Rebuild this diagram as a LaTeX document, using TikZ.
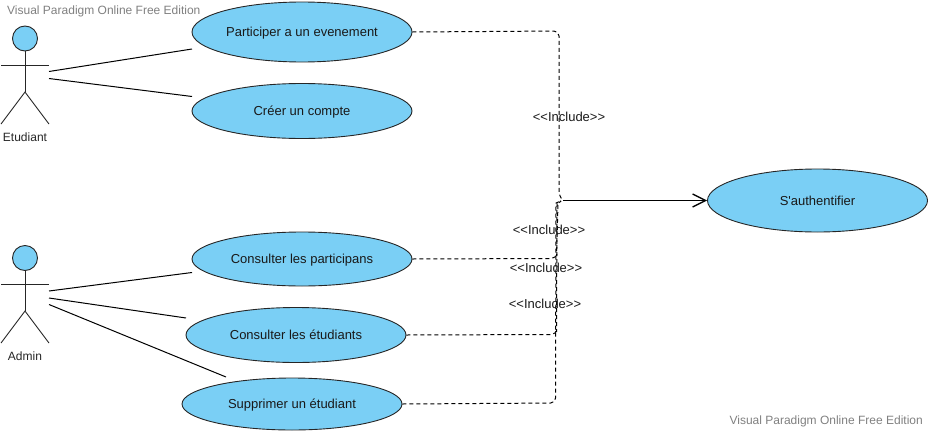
\documentclass[tikz,border=0pt]{standalone}
\usepackage{fontspec}
\setmainfont[Ligatures=TeXOff]{Liberation Sans}
\usetikzlibrary{shapes.geometric,arrows.meta}
\definecolor{ucfill}{HTML}{7ACFF5}
\definecolor{wmgray}{HTML}{808080}
\tikzset{
  x=1pt,y=-1pt,
  usecase/.style={ellipse,draw=black!85,line width=0.9pt,fill=ucfill,minimum width=220pt,inner sep=0pt,text height=9pt,text depth=0pt,font=\fontsize{13}{15}\selectfont,text=black!90},
  actorline/.style={draw=black!85,line width=0.9pt},
  assoc/.style={draw=black,line width=1pt},
  dep/.style={draw=black,line width=1pt,dash pattern=on 4pt off 3pt,rounded corners=5pt},
  lbl/.style={inner sep=0pt,font=\fontsize{13}{15}\selectfont,text=black!90},
  small/.style={inner sep=0pt,font=\fontsize{12}{14}\selectfont,text=black!85},
  wm/.style={inner sep=0pt,font=\fontsize{12}{14}\selectfont,text=wmgray},
}
\begin{document}
\begin{tikzpicture}
\useasboundingbox (0,0) rectangle (928,431);
% use cases
\node[usecase,minimum height=60pt] (p) at (302,32) {Participer a un evenement};
\node[usecase,minimum height=55pt] (c) at (302,111) {Créer un compte};
\node[usecase,minimum height=63pt] (s) at (817.5,200.5) {S'authentifier};
\node[usecase,minimum height=54pt] (cp) at (302,259) {Consulter les participans};
\node[usecase,minimum height=55pt] (ce) at (296,335) {Consulter les étudiants};
\node[usecase,minimum height=52pt] (se) at (292,404) {Supprimer un étudiant};
% actor Etudiant
\node[circle,draw=black!85,line width=0.9pt,fill=ucfill,minimum size=25pt,inner sep=0pt] (h1) at (25,38.5) {};
\coordinate (n1) at (25,92);
\coordinate (a1l) at (1,65.5);\coordinate (a1r) at (49,65.5);
\coordinate (f1l) at (1,124);\coordinate (f1r) at (49,124);
\draw[actorline] (h1.south) -- (n1);
\draw[actorline] (a1l) -- (a1r);
\draw[actorline] (f1l) -- (n1) -- (f1r);
\node[small] (t1) at (25,137.5) {Etudiant};
% actor Admin
\node[circle,draw=black!85,line width=0.9pt,fill=ucfill,minimum size=25pt,inner sep=0pt] (h2) at (25,258) {};
\coordinate (n2) at (25,311);
\coordinate (a2l) at (1,284.5);\coordinate (a2r) at (49,284.5);
\coordinate (f2l) at (1,343);\coordinate (f2r) at (49,343);
\draw[actorline] (h2.south) -- (n2);
\draw[actorline] (a2l) -- (a2r);
\draw[actorline] (f2l) -- (n2) -- (f2r);
\node[small] (t2) at (25,356.5) {Admin};
% associations
\coordinate (e1a) at (49,71.5);\coordinate (e1b) at (49,78.5);
\coordinate (e2a) at (49,291);\coordinate (e2b) at (49,298);\coordinate (e2c) at (49,304.5);
\coordinate (pa) at (192,49);\coordinate (ca) at (192,96.5);
\coordinate (cpa) at (192,272.5);\coordinate (cea) at (186,318);\coordinate (sea) at (226,377);
\draw[assoc] (e1a) -- (pa);
\draw[assoc] (e1b) -- (ca);
\draw[assoc] (e2a) -- (cpa);
\draw[assoc] (e2b) -- (cea);
\draw[assoc] (e2c) -- (sea);
% includes
\coordinate (j) at (563,200.5);
\coordinate (j2) at (561,201);
\draw[dep] (p.east) -- (559,31) -- (559,196) [sharp corners] -- (j);
\draw[dep] (cp.east) -- (556,258.5) [sharp corners] -- (556.5,256) -- (558,204) -- (j2);
\draw[dep] (ce.east) -- (556,334.5) [sharp corners] -- (556.5,332) -- (557,203.5) -- (j2);
\draw[dep] (se.east) -- (555.5,403) [sharp corners] -- (556,203) -- (j2);
\draw[line width=1pt,-{Straight Barb[length=13pt,width=13pt,line width=1.3pt]}] (j) -- (s.west);
\node[lbl] (l1) at (569,116.5) {<<Include>>};
\node[lbl] (l2) at (549,229.5) {<<Include>>};
\node[lbl] (l3) at (546,267.5) {<<Include>>};
\node[lbl] (l4) at (545,303.5) {<<Include>>};
% watermarks
\node[wm,anchor=west] (w1) at (7,11.5) {Visual Paradigm Online Free Edition};
\node[wm,anchor=east] (w2) at (923,421.5) {Visual Paradigm Online Free Edition};
\end{tikzpicture}
\end{document}
